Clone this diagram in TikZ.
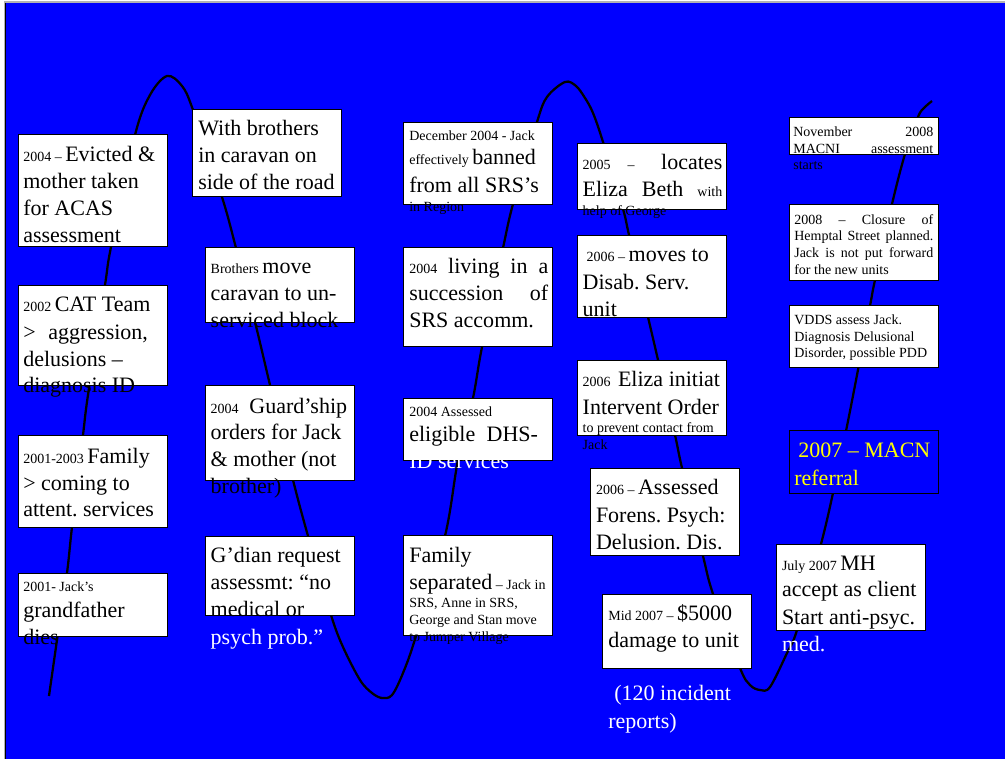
\documentclass[tikz,border=0pt]{standalone}
\usepackage{fontspec}
\setmainfont{Liberation Serif}
\usetikzlibrary{fit}
\frenchspacing
\definecolor{slideblue}{RGB}{0,0,255}
\definecolor{slideyellow}{RGB}{255,255,0}
\newcommand\fbig{\fontsize{16.5pt}{20pt}\selectfont}
\newcommand\fsm{\fontsize{10.5pt}{12.5pt}\selectfont}
\newcommand\txl[4]{\node[ln] (#1) at (#2,#3) {#4};}
\newcommand\bxat[5]{\node[bx, fit={(#2,#3) (#4,#5)}] (#1) {};}
\begin{document}
\begin{tikzpicture}[x=0.75pt,y=-0.75pt,
  bx/.style={draw=black, fill=white, line width=0.75pt, inner sep=0pt, outer sep=0pt},
  bxblue/.style={bx, fill=slideblue},
  ln/.style={anchor=base west, inner sep=0pt, outer sep=0pt, font=\fbig\frenchspacing, text=black},
  wave/.style={draw=black, line width=1.7pt}]
\useasboundingbox (0,0) rectangle (1005,759);
% background
\fill[white] (0,0) rectangle (1005,759);
\fill[gray!60] (4,1.5) rectangle (1005,759);
\fill[slideblue] (5,2.7) rectangle (1005,759);
\draw[black, line width=0.6pt] (5.4,2.7) -- (5.4,759);
% wave
\draw[wave] plot[smooth, tension=0.55] coordinates {
(49,696) (58,633) (67,573) (72,527) (83,435) (88,395) (105,285) (111,247)
(135,135) (150,95) (167,76) (182,86) (193,110) (222,197) (236,248) (255,322)
(270,385) (293,480) (308,536) (331,615) (343,647) (360,680) (372,693) (382,698)
(392,695) (403,673) (416,636) (445,536) (458,460) (473,398) (482,347) (503,248)
(513,204) (537,122) (547,97) (565,82) (576,86) (585,98) (593,113) (603,142)
(623,209) (629,235) (648,317) (658,360) (675,435) (682,468) (703,556) (713,594)
(740,668) (750,685) (760,690) (770,687) (787,653) (797,630) (821,544) (833,493)
(846,431) (857,375) (870,306) (875,280) (892,204) (905,154) (918,117) (924,108) (932,101)};
% boxes
\bxat{b1}{18.3}{135}{167.3}{246.7}
\bxat{b2}{18.3}{285.7}{167.3}{385}
\bxat{b3}{18.3}{435.7}{167.3}{527.3}
\bxat{b4}{18.3}{573.7}{167.3}{636}
\bxat{b5}{192.7}{110}{341.7}{196.7}
\bxat{b6}{205}{247.7}{354}{322.3}
\bxat{b7}{205}{385.7}{354}{480}
\bxat{b8}{205}{536}{354}{615}
\bxat{b9}{403.3}{122.3}{552.7}{204.3}
\bxat{b10}{403.3}{247.7}{552.7}{346.7}
\bxat{b11}{403.3}{398.3}{552.7}{460}
\bxat{b12}{403.3}{535.7}{552.7}{635.7}
\bxat{b13}{577.7}{143.3}{726.7}{209.3}
\bxat{b14}{577.7}{235}{726.7}{317.3}
\bxat{b15}{577.7}{360}{726.7}{435}
\bxat{b16}{590}{468.3}{739.3}{555.7}
\bxat{b17}{602.3}{594}{751.7}{668.3}
\bxat{b18}{789.3}{117.3}{938.3}{154.3}
\bxat{b19}{789.3}{204.3}{938.3}{280}
\bxat{b20}{789.3}{305.7}{938.3}{367.3}
\node[bxblue, fit={(789.3,430.7) (938.3,493.3)}] (b21) {};
\bxat{b22}{776.7}{544}{925.7}{630.7}
% column 1
\txl{t1a}{23.3}{161.7}{{\fsm 2004 – }Evicted \&}
\txl{t1b}{23.3}{188.3}{mother taken}
\txl{t1c}{23.3}{215}{for ACAS}
\txl{t1d}{23.3}{242.7}{assessment}
\txl{t2a}{23.3}{311.7}{{\fsm 2002 }CAT Team}
\txl{t2b}{23.3}{339.3}{>\hspace{9.5pt}aggression,}
\txl{t2c}{23.3}{366}{delusions –}
\txl{t2d}{23.3}{392.7}{diagnosis ID}
\txl{t3a}{23.3}{463.3}{{\fsm 2001-2003 }Family}
\txl{t3b}{23.3}{490}{> coming to}
\txl{t3c}{23.3}{516}{attent. services}
\txl{t4a}{23.3}{591.7}{{\fsm 2001- Jack’s}}
\txl{t4b}{23.3}{617.3}{grandfather}
\txl{t4c}{23.3}{644.3}{dies}
% column 2
\txl{t5a}{198.3}{136}{With brothers}
\txl{t5b}{198.3}{162.7}{in caravan on}
\txl{t5c}{198.3}{190}{side of the road}
\txl{t6a}{210.7}{273.3}{{\fsm Brothers }move}
\txl{t6b}{210.7}{300.7}{caravan to un-}
\txl{t6c}{210.7}{327.7}{serviced block}
\txl{t7a}{210.7}{413.3}{{\fsm 2004}\hspace{8pt}Guard’ship}
\txl{t7b}{210.7}{439.3}{orders for Jack}
\txl{t7c}{210.7}{466}{\& mother (not}
\txl{t7d}{210.7}{493.3}{brother)}
\txl{t8a}{210.7}{562.7}{G’dian request}
\txl{t8b}{210.7}{589.3}{assessmt: “no}
\txl{t8c}{210.7}{616.7}{medical or}
\txl{t8d}{210.7}{644}{\textcolor{white}{psych prob.”}}
% column 3
\txl{t9a}{409.3}{141}{{\fsm December 2004 - Jack}}
\txl{t9b}{409.3}{165}{{\fsm effectively }banned}
\txl{t9c}{409.3}{192.7}{from all SRS’s}
\txl{t9d}{409.3}{211.7}{{\fsm in Region}}
\txl{t10a}{409.3}{273.3}{\makebox[104.25pt][s]{{\fsm 2004} living in a}}
\txl{t10b}{409.3}{300.7}{\makebox[104.25pt][s]{succession of}}
\txl{t10c}{409.3}{327.7}{SRS accomm.}
\txl{t11a}{409.3}{416}{{\fsm 2004 Assessed}}
\txl{t11b}{409.3}{441.7}{eligible\hspace{8.5pt}DHS-}
\txl{t11c}{409.3}{468.3}{\textcolor{white}{ID services}}
\txl{t12a}{409.3}{562.7}{Family}
\txl{t12b}{409.3}{589.3}{separated{\fsm\ – Jack in}}
\txl{t12c}{409.3}{607.7}{{\fsm SRS, Anne in SRS,}}
\txl{t12d}{409.3}{624.3}{{\fsm George and Stan move}}
\txl{t12e}{409.3}{641}{{\fsm to Jumper Village}}
% column 4
\txl{t13a}{582.7}{170}{\makebox[104.7pt][s]{{\fsm 2005 –} locates}}
\txl{t13b}{582.7}{196.7}{\makebox[104.7pt][s]{Eliza Beth {\fsm with}}}
\txl{t13c}{582.7}{215.7}{{\fsm help of George}}
\txl{t14a}{586.7}{261.7}{{\fsm 2006 – }moves to}
\txl{t14b}{582.7}{289.3}{Disab. Serv.}
\txl{t14c}{582.7}{316}{unit}
\txl{t15a}{582.7}{386.7}{{\fsm 2006}\hspace{5.5pt}Eliza initiat}
\txl{t15b}{582.7}{414}{Intervent Order}
\txl{t15c}{582.7}{432.7}{{\fsm to prevent contact from}}
\txl{t15d}{582.7}{449.3}{{\fsm Jack}}
\txl{t16a}{596}{494.3}{{\fsm 2006 – }Assessed}
\txl{t16b}{596}{522.3}{Forens. Psych:}
\txl{t16c}{596}{549}{Delusion. Dis.}
\txl{t17a}{608.3}{620}{{\fsm Mid 2007 – }\$5000}
\txl{t17b}{608.3}{647.3}{damage to unit}
\txl{t17c}{614.3}{700.7}{\textcolor{white}{(120 incident}}
\txl{t17d}{608.3}{728.3}{\textcolor{white}{reports)}}
% column 5
\txl{t18a}{793.3}{136.7}{\fsm\makebox[105pt][s]{November 2008}}
\txl{t18b}{793.3}{153.3}{\fsm\makebox[105pt][s]{MACNI assessment}}
\txl{t18c}{793.3}{170}{\fsm starts}
\txl{t19a}{794.3}{224}{\fsm\makebox[104.25pt][s]{2008 – Closure of}}
\txl{t19b}{794.3}{240.7}{\fsm\makebox[104.25pt][s]{Hemptal Street planned.}}
\txl{t19c}{794.3}{257.3}{\fsm\makebox[104.25pt][s]{Jack is not put forward}}
\txl{t19d}{794.3}{274}{\fsm for the new units}
\txl{t20a}{794.3}{324.3}{\fsm VDDS assess Jack.}
\txl{t20b}{794.3}{341}{\fsm Diagnosis Delusional}
\txl{t20c}{794.3}{357.7}{\fsm Disorder, possible PDD}
\txl{t21a}{798.3}{457.3}{\textcolor{slideyellow}{2007 – MACN}}
\txl{t21b}{794.3}{485}{\textcolor{slideyellow}{referral}}
\txl{t22a}{782}{570}{{\fsm July 2007 }MH}
\txl{t22b}{782}{596.7}{accept as client}
\txl{t22c}{782}{624}{Start anti-psyc.}
\txl{t22d}{782}{651.7}{\textcolor{white}{med.}}
\end{tikzpicture}
\end{document}
